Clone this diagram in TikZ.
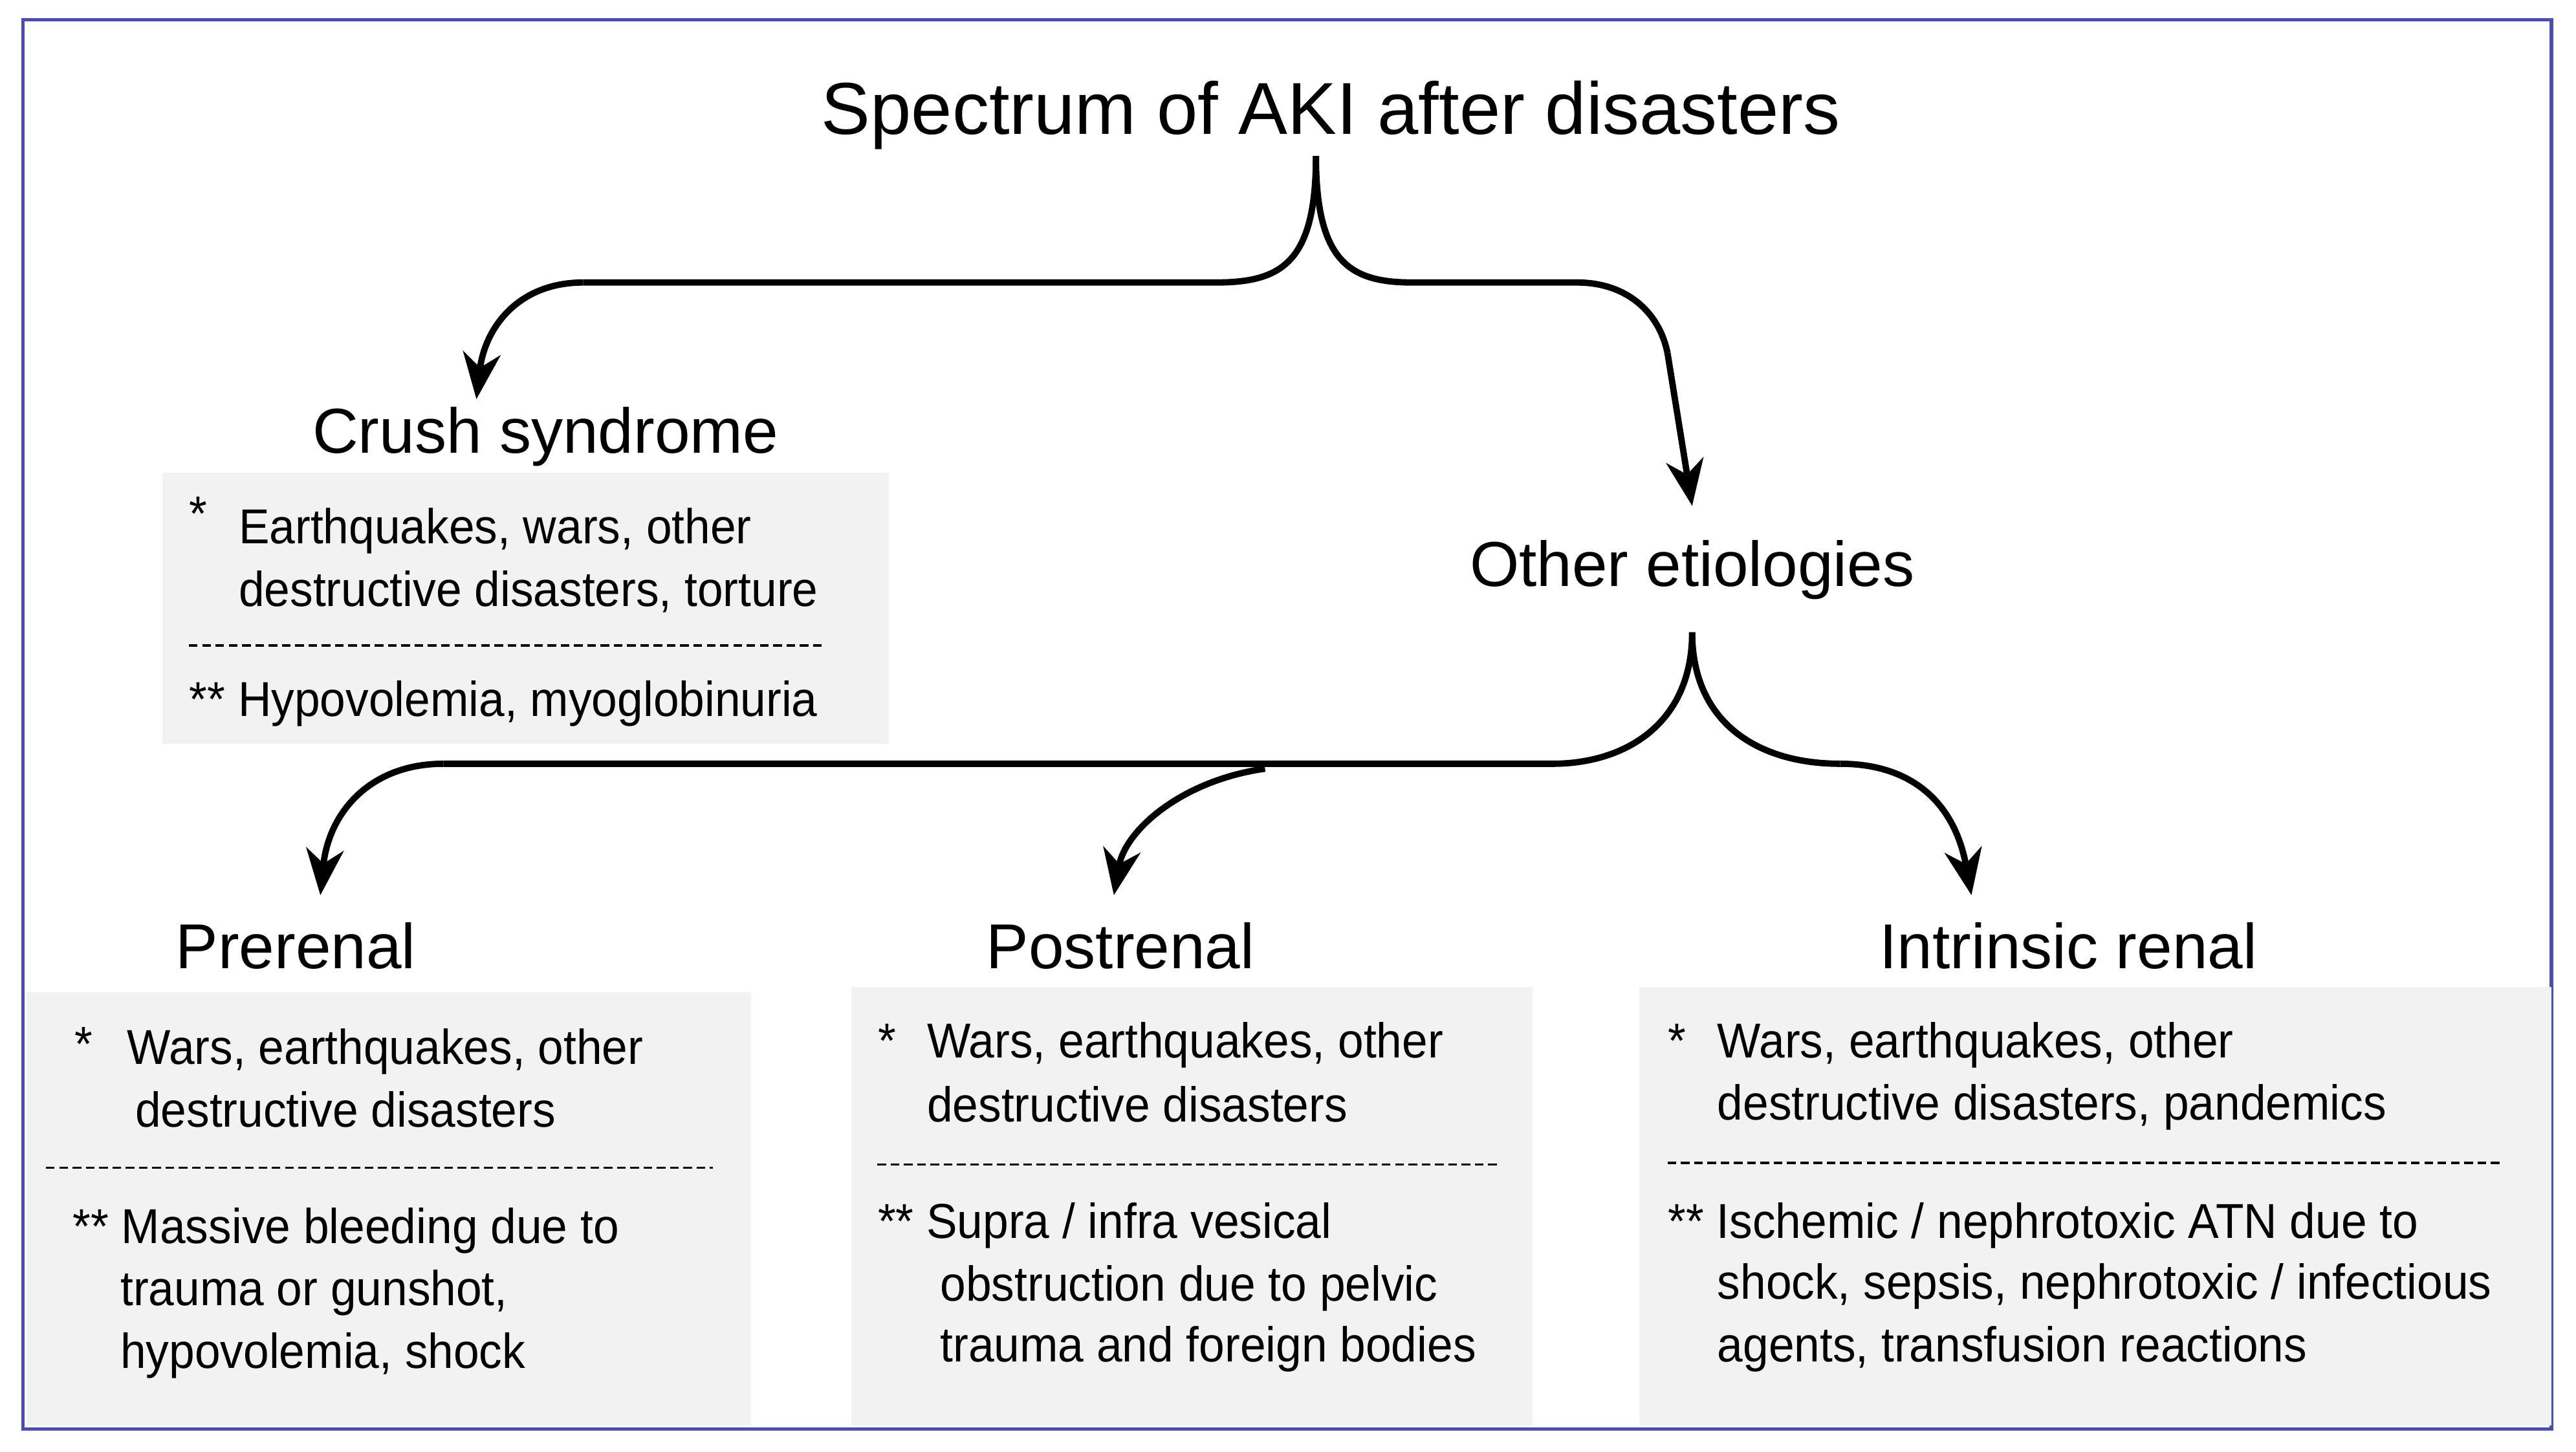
\documentclass[tikz,border=0pt]{standalone}
\usepackage{fontspec}
\setmainfont{Liberation Sans}
\usetikzlibrary{arrows.meta}
\begin{document}
\begin{tikzpicture}[x=0.02cm,y=-0.02cm,
  box/.style={fill=gray!10,draw=none},
  head/.style={font=\fontsize{22}{26}\selectfont},
  body/.style={anchor=base west,inner sep=0,font=\addfontfeature{FakeStretch=0.94}\fontsize{17}{20}\selectfont},
  sep/.style={line width=0.8pt,dash pattern=on 3pt off 1.6pt},
  conn/.style={line width=2.2pt,-{Stealth[length=16pt,width=13pt,inset=5pt]}},
  brace/.style={line width=2.2pt}]
\useasboundingbox (0,0) rectangle (1568,884);
\draw[draw=blue!60!black!70,line width=1.2pt] (14,12) rectangle (1553,870);
\node[font=\fontsize{25.5}{30}\selectfont] (title) at (810,70) {Spectrum of AKI after disasters};
% boxes
\fill[box] (99,288) rectangle (541,453);
\fill[box] (16,604) rectangle (457,868);
\fill[box] (518,601) rectangle (933,868);
\fill[box] (998,601) rectangle (1553,868);
\node[head] (crush) at (332,266) {Crush syndrome};
\node[head] (other) at (1030,347) {Other etiologies};
\node[head] (pre) at (180,576) {Prerenal};
\node[head] (post) at (682,576) {Postrenal};
\node[head] (intr) at (1259,576) {Intrinsic renal};
% brace 1
\coordinate (t1) at (801,95);
\coordinate (a1) at (290,243);
\coordinate (a2) at (1030,308);
\draw[brace] (t1) .. controls (801,160) and (780,172) .. (740,172) -- (355,172);
\draw[conn] (355,172) .. controls (315,172) and (295,200) .. (a1);
\draw[brace] (t1) .. controls (801,160) and (822,172) .. (860,172) -- (960,172) .. controls (990,172) and (1010,190) .. (1015,215);
\draw[conn] (1015,215) -- (a2);
% brace 2
\coordinate (t2) at (1030,385);
\coordinate (b1) at (195,545);
\coordinate (b2) at (678,545);
\coordinate (b3) at (1200,545);
\draw[brace] (t2) .. controls (1030,440) and (990,465) .. (945,465) -- (270,465);
\draw[conn] (270,465) .. controls (225,465) and (200,495) .. (b1);
\draw[conn] (770,468) .. controls (720,475) and (685,505) .. (b2);
\draw[brace] (t2) .. controls (1030,440) and (1070,465) .. (1120,465);
\draw[conn] (1120,465) .. controls (1165,465) and (1190,490) .. (b3);
% crush text
\node[body] (c0) at (115,323) {*};
\node[body] (c1) at (145,331) {Earthquakes, wars, other};
\node[body] (c2) at (145,369) {destructive disasters, torture};
\draw[sep] (115,393) -- (500,393);
\node[body] (c3) at (115,436) {** Hypovolemia, myoglobinuria};
% prerenal
\node[body] (p0) at (45,646) {*};
\node[body] (p1) at (77,648) {Wars, earthquakes, other};
\node[body] (p2) at (82,686) {destructive disasters};
\draw[sep] (28,711) -- (434,711);
\node[body] (p3) at (44,757) {** Massive bleeding due to};
\node[body] (p4) at (73,795) {trauma or gunshot,};
\node[body] (p5) at (73,833) {hypovolemia, shock};
% postrenal
\node[body] (q0) at (534,644) {*};
\node[body] (q1) at (564,644) {Wars, earthquakes, other};
\node[body] (q2) at (564,683) {destructive disasters};
\draw[sep] (534,709) -- (912,709);
\node[body] (q3) at (534,754) {** Supra / infra vesical};
\node[body] (q4) at (572,792) {obstruction due to pelvic};
\node[body] (q5) at (572,829) {trauma and foreign bodies};
% intrinsic
\node[body] (r0) at (1015,644) {*};
\node[body] (r1) at (1045,644) {Wars, earthquakes, other};
\node[body] (r2) at (1045,682) {destructive disasters, pandemics};
\draw[sep] (1015,708) -- (1523,708);
\node[body] (r3) at (1015,754) {** Ischemic / nephrotoxic ATN due to};
\node[body] (r4) at (1045,791) {shock, sepsis, nephrotoxic / infectious};
\node[body] (r5) at (1045,829) {agents, transfusion reactions};
\end{tikzpicture}
\end{document}
